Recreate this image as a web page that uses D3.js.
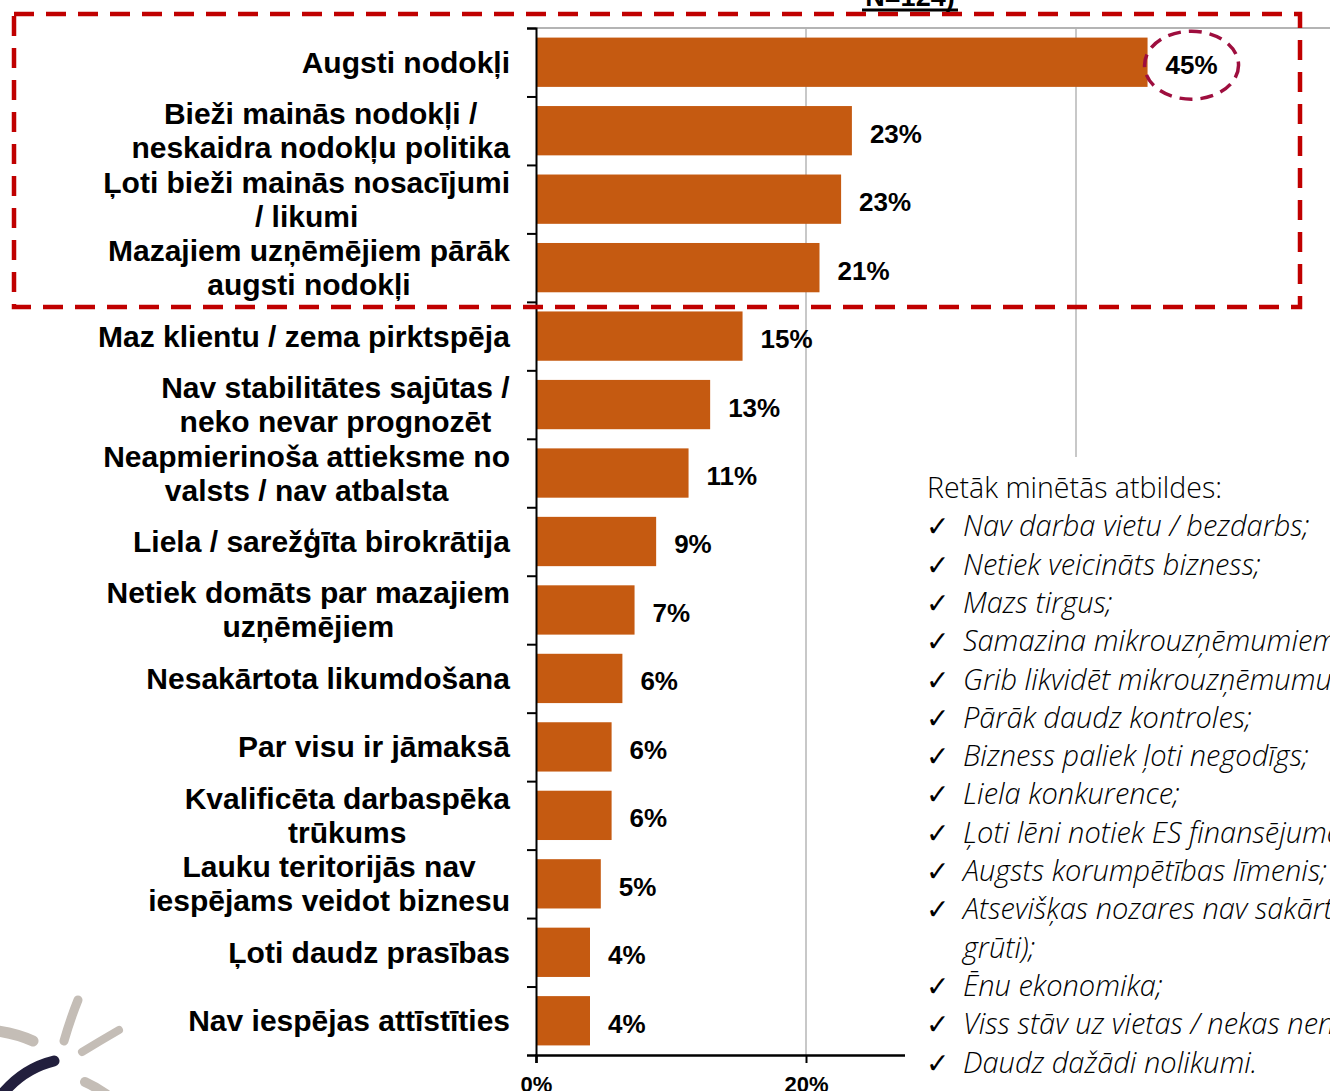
<!DOCTYPE html>
<html lang="lv">
<head>
    <meta charset="UTF-8">
    <title>Problēmas uzņēmējdarbībā</title>
    <script src="https://d3js.org/d3.v7.min.js"></script>
    <style>
        body { margin: 0; background: #fff; }
        svg { display: block; }
    </style>
</head>
<body>
    <div id="chart"></div>

    <script type="text/javascript">

        // dati
        let categories = [
            "Augsti nodokļi",
            "Bieži mainās nodokļi /|neskaidra nodokļu politika",
            "Ļoti bieži mainās nosacījumi|/ likumi",
            "Mazajiem uzņēmējiem pārāk|augsti nodokļi",
            "Maz klientu / zema pirktspēja",
            "Nav stabilitātes sajūtas /|neko nevar prognozēt",
            "Neapmierinoša attieksme no|valsts / nav atbalsta",
            "Liela / sarežģīta birokrātija",
            "Netiek domāts par mazajiem|uzņēmējiem",
            "Nesakārtota likumdošana",
            "Par visu ir jāmaksā",
            "Kvalificēta darbaspēka|trūkums",
            "Lauku teritorijās nav|iespējams veidot biznesu",
            "Ļoti daudz prasības",
            "Nav iespējas attīstīties"
        ];
        let values = [45.3, 23.4, 22.6, 21.0, 15.3, 12.9, 11.3, 8.9, 7.3, 6.4, 5.6, 5.6, 4.8, 4.0, 4.0];
        let valueLabels = ["45%", "23%", "23%", "21%", "15%", "13%", "11%", "9%", "7%", "6%", "6%", "6%", "5%", "4%", "4%"];
        let xTicks = [0, 20, 40, 60];

        let otherTitle = "Retāk minētās atbildes:";
        let otherAnswers = [
            "Nav darba vietu / bezdarbs;",
            "Netiek veicināts bizness;",
            "Mazs tirgus;",
            "Samazina mikrouzņēmumiem atvieglojumus;",
            "Grib likvidēt mikrouzņēmumu nodokli;",
            "Pārāk daudz kontroles;",
            "Bizness paliek ļoti negodīgs;",
            "Liela konkurence;",
            "Ļoti lēni notiek ES finansējuma piešķiršana;",
            "Augsts korumpētības līmenis;",
            "Atsevišķas nozares nav sakārtotas (ir|grūti);",
            "Ēnu ekonomika;",
            "Viss stāv uz vietas / nekas nenotiek;",
            "Daudz dažādi nolikumi."
        ];
        let subtitle = "N=124)";

        let width = 1330, height = 1091;
        let plotTop = 28, plotBottom = 1055, plotLeft = 536;
        let boxLeft = 905, boxTop = 457;

        let svg = d3.select("#chart").append("svg")
            .attr("width", width)
            .attr("height", height);

        let x = d3.scaleLinear().domain([0, 60]).range([plotLeft, plotLeft + 810]);
        let y = d3.scaleBand().domain(categories).range([plotTop, plotBottom])
            .paddingInner(0.28).paddingOuter(0.14);
        let yIdx = d3.scaleLinear().domain([0, categories.length]).range([plotTop, plotBottom]);

        // režģis
        svg.append("g")
            .selectAll("line")
            .data(xTicks.slice(1))
            .enter().append("line")
            .attr("x1", d => x(d)).attr("x2", d => x(d))
            .attr("y1", plotTop).attr("y2", plotBottom)
            .attr("stroke", "#c8c8c8").attr("stroke-width", 2);
        svg.append("line")
            .attr("x1", plotLeft).attr("x2", width)
            .attr("y1", plotTop).attr("y2", plotTop)
            .attr("stroke", "#b4b4b4").attr("stroke-width", 2);

        // stabiņi
        svg.append("g")
            .selectAll("rect")
            .data(values)
            .enter().append("rect")
            .attr("x", x(0))
            .attr("y", (d, i) => y(categories[i]))
            .attr("width", d => x(d) - x(0))
            .attr("height", y.bandwidth())
            .attr("fill", "#c55a11");

        // vērtības
        svg.append("g")
            .selectAll("text")
            .data(values)
            .enter().append("text")
            .attr("x", d => x(d) + 18)
            .attr("y", (d, i) => y(categories[i]) + y.bandwidth() / 2)
            .attr("dy", "0.46em")
            .style("font", "bold 26px 'Liberation Sans', Arial, sans-serif")
            .attr("fill", "#000")
            .text((d, i) => valueLabels[i]);

        // Y ass
        let yAxis = svg.append("g")
            .attr("transform", "translate(" + plotLeft + ",0)")
            .call(d3.axisLeft(yIdx).ticks(categories.length).tickSize(9).tickFormat(""));
        yAxis.select(".domain").attr("stroke", "#000").attr("stroke-width", 2);
        yAxis.selectAll(".tick line").attr("stroke", "#000").attr("stroke-width", 2);

        // X ass
        let xAxis = svg.append("g")
            .attr("transform", "translate(0," + plotBottom + ")")
            .call(d3.axisBottom(x).tickValues(xTicks).tickSize(8).tickPadding(13).tickFormat(d => d + "%"));
        xAxis.select(".domain").attr("stroke", "#000").attr("stroke-width", 2.5);
        xAxis.selectAll(".tick line").attr("stroke", "#000").attr("stroke-width", 2);
        xAxis.selectAll(".tick text")
            .style("font", "bold 22px 'Liberation Sans', Arial, sans-serif")
            .attr("fill", "#000");
        // teksta lauks aizsedz labās puses iedaļas
        xAxis.selectAll(".tick").filter(d => x(d) > boxLeft).select("text").remove();

        // kategoriju nosaukumi
        let catG = svg.append("g");
        categories.forEach((c, i) => {
            let lines = c.split("|");
            let cy = y(c) + y.bandwidth() / 2;
            let t = catG.append("text")
                .style("font", "bold 30px 'Liberation Sans', Arial, sans-serif")
                .attr("fill", "#000")
                .attr("text-anchor", "middle");
            lines.forEach((l, j) => {
                t.append("tspan")
                    .attr("x", 0)
                    .attr("y", cy + (j - (lines.length - 1) / 2) * 34)
                    .attr("dy", "0.35em")
                    .text(l);
            });
            // bloks izlīdzināts pa labi pie 510
            let w = t.node().getBBox().width;
            t.selectAll("tspan").attr("x", 510 - w / 2);
        });

        // sarkanais rāmis
        svg.append("rect")
            .attr("x", 14).attr("y", 14)
            .attr("width", 1286).attr("height", 293)
            .attr("fill", "none")
            .attr("stroke", "#c00000")
            .attr("stroke-width", 4.5)
            .attr("stroke-dasharray", "20 12");

        // aplis ap 45%
        svg.append("ellipse")
            .attr("cx", x(values[0]) + 44).attr("cy", y(categories[0]) + y.bandwidth() / 2 + 3)
            .attr("rx", 47).attr("ry", 34)
            .attr("fill", "none")
            .attr("stroke", "#9e0e3e")
            .attr("stroke-width", 3.5)
            .attr("stroke-dasharray", "13 8");

        // teksta lauks
        svg.append("rect")
            .attr("x", boxLeft).attr("y", boxTop)
            .attr("width", width - boxLeft).attr("height", height - boxTop)
            .attr("fill", "#fff");

        let tb = svg.append("g");
        tb.append("text")
            .attr("x", 927).attr("y", 498)
            .style("font", "300 28.5px 'Open Sans', 'Noto Sans', sans-serif")
            .attr("fill", "#000")
            .text(otherTitle);
        let row = 1;
        otherAnswers.forEach(a => {
            a.split("|").forEach((l, j) => {
                let by = 498 + row * 38.3;
                if (j === 0) {
                    tb.append("text")
                        .attr("x", 926).attr("y", by)
                        .style("font", "28px 'DejaVu Sans', sans-serif")
                        .attr("fill", "#000")
                        .text("✓");
                }
                tb.append("text")
                    .attr("x", 963).attr("y", by)
                    .style("font", "italic 300 29px 'Open Sans', 'Noto Sans', sans-serif")
                    .attr("fill", "#000")
                    .text(l);
                row++;
            });
        });

        // virsraksta atlikums
        svg.append("text")
            .attr("x", 910).attr("y", 6)
            .attr("text-anchor", "middle")
            .style("font", "bold 27px 'Liberation Sans', Arial, sans-serif")
            .attr("fill", "#000")
            .text(subtitle);
        svg.append("line")
            .attr("x1", 862).attr("x2", 958)
            .attr("y1", 10).attr("y2", 10)
            .attr("stroke", "#000").attr("stroke-width", 3);

        // logo stūrī
        let logo = svg.append("g").attr("fill", "none").attr("stroke-linecap", "round");
        logo.append("path").attr("d", "M78,1000 Q70,1020 64,1041").attr("stroke", "#c4bdb6").attr("stroke-width", 9);
        logo.append("path").attr("d", "M119,1030 Q100,1041 82,1052").attr("stroke", "#c4bdb6").attr("stroke-width", 8);
        logo.append("path").attr("d", "M-2,1031 Q18,1034 33,1041").attr("stroke", "#c4bdb6").attr("stroke-width", 11);
        logo.append("path").attr("d", "M85,1082 Q96,1087 106,1094").attr("stroke", "#c4bdb6").attr("stroke-width", 10);
        logo.append("path").attr("d", "M54,1061 Q25,1068 4,1092").attr("stroke", "#221f3d").attr("stroke-width", 11);

    </script>
</body>
</html>
